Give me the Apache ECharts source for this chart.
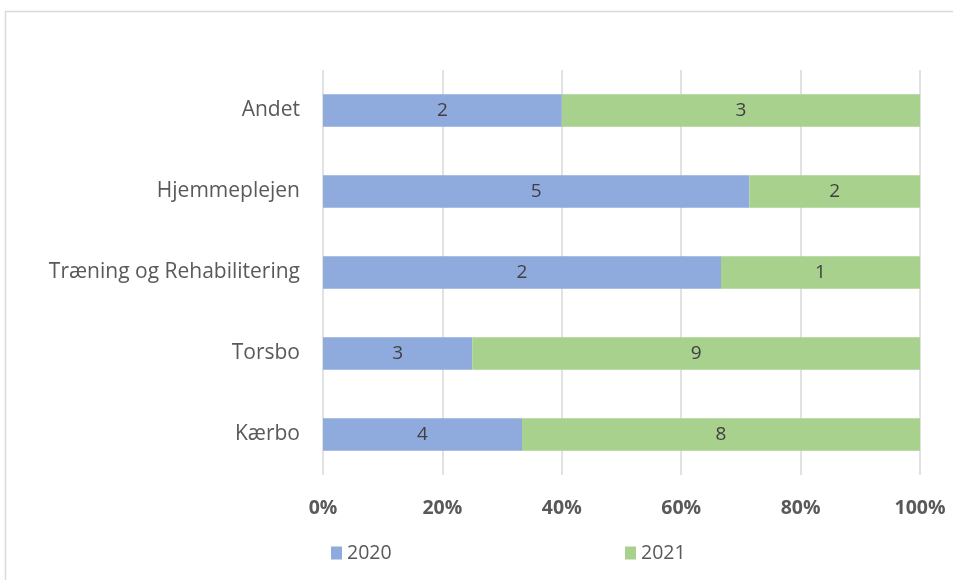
<!DOCTYPE html>
<html>
<head>
<meta charset="utf-8">
<script src="https://cdn.jsdelivr.net/npm/echarts@6/dist/echarts.min.js"></script>
<style>
  html, body { margin: 0; padding: 0; background: #fff; }
</style>
</head>
<body>
<div id="main" style="width: 953px;height:580px;"></div>
<script>
var categories = ['Kærbo', 'Torsbo', 'Træning og Rehabilitering', 'Hjemmeplejen', 'Andet'];
var counts2020 = [4, 3, 2, 5, 2];
var counts2021 = [8, 9, 1, 2, 3];
var tickLabels = ['0%', '20%', '40%', '60%', '80%', '100%'];

// andel i procent af rækkens total
function pct(own, other) {
    return own.map(function (v, i) {
        return { value: v / (v + other[i]) * 100, raw: v };
    });
}

var myChart = echarts.init(document.getElementById('main'));

var labelStyle = {
    show: true,
    position: 'inside',
    color: '#404040',
    fontFamily: 'Open Sans',
    fontSize: 19,
    formatter: function (p) { return p.data.raw; }
};

option = {
    backgroundColor: '#fff',
    animation: false,
    graphic: [{
        type: 'rect',
        shape: { x: 5.5, y: 11.5, width: 960, height: 600 },
        style: { fill: 'none', stroke: '#d9d9d9', lineWidth: 1.5 },
        silent: true
    }],
    grid: {
        left: 323,
        right: 33,
        top: 70,
        bottom: 105
    },
    legend: [{
        left: 326,
        top: 538,
        itemWidth: 11,
        itemHeight: 13,
        itemGap: 4,
        icon: 'rect',
        textStyle: { color: '#595959', fontFamily: 'Open Sans', fontSize: 19.5 },
        data: ['2020']
    }, {
        left: 620,
        top: 538,
        itemWidth: 11,
        itemHeight: 13,
        itemGap: 4,
        icon: 'rect',
        textStyle: { color: '#595959', fontFamily: 'Open Sans', fontSize: 19.5 },
        data: ['2021']
    }],
    xAxis: {
        type: 'value',
        min: 0,
        max: 100,
        interval: 20,
        axisLine: { show: false },
        axisTick: { show: false },
        splitLine: { lineStyle: { color: '#d9d9d9', width: 1.5 } },
        axisLabel: {
            margin: 23,
            color: '#595959',
            fontFamily: 'Open Sans',
            fontWeight: 'bold',
            fontSize: 19.5,
            formatter: function (v) { return tickLabels[Math.round(v / 20)]; }
        }
    },
    yAxis: {
        type: 'category',
        data: categories,
        axisLine: { show: false },
        axisTick: { show: false },
        axisLabel: {
            margin: 23,
            color: '#595959',
            fontFamily: 'Open Sans',
            fontSize: 21
        }
    },
    series: [{
        name: '2020',
        type: 'bar',
        stack: 'total',
        barWidth: '40%',
        itemStyle: { color: '#8faadc' },
        label: labelStyle,
        data: pct(counts2020, counts2021)
    }, {
        name: '2021',
        type: 'bar',
        stack: 'total',
        barWidth: '40%',
        itemStyle: { color: '#a9d18e' },
        label: labelStyle,
        data: pct(counts2021, counts2020)
    }]
};
myChart.setOption(option);
</script>
</body>
</html>
